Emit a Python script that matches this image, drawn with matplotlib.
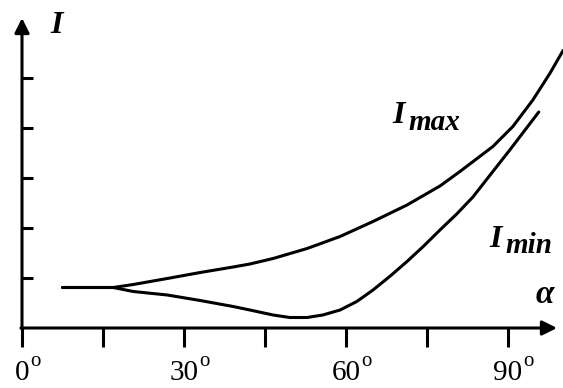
import numpy as np
import matplotlib.pyplot as plt

# angle (degrees) and intensity (arbitrary units)
alpha_max = [7.5, 16.9, 20.6, 26.9, 33.0, 39.1, 42.2, 46.5, 52.8, 58.9,
             65.0, 71.3, 77.4, 81.1, 87.2, 90.9, 94.6, 97.8, 100.2]
i_max = [0.81, 0.81, 0.87, 0.99, 1.11, 1.22, 1.28, 1.39, 1.59, 1.83,
         2.13, 2.46, 2.84, 3.13, 3.63, 4.03, 4.56, 5.10, 5.55]

alpha_min = [7.5, 16.9, 20.6, 26.9, 33.0, 39.1, 42.2, 46.5, 49.6, 52.8,
             55.7, 58.9, 62.0, 65.0, 68.2, 71.3, 74.3, 77.4, 80.5, 83.5,
             87.2, 90.4, 95.7]
i_min = [0.81, 0.81, 0.73, 0.66, 0.55, 0.43, 0.36, 0.26, 0.21, 0.21,
         0.26, 0.36, 0.53, 0.76, 1.04, 1.33, 1.63, 1.96, 2.28, 2.62,
         3.13, 3.57, 4.32]

x_ticks = [0, 15, 30, 45, 60, 75, 90]
x_labels = ["0", "30", "60", "90"]
x_label_pos = [0, 30, 60, 90]
y_ticks = [1, 2, 3, 4, 5]

# picture is 563x388 px; 5.4 px per degree, 50 px per unit of I
px_x = 5.4
px_y = 50.0
x0, y0 = 22, 328

fig = plt.figure(figsize=(5.63, 3.88), dpi=100)
ax = fig.add_axes([0, 0, 1, 1])
ax.set_xlim(-x0 / px_x, (563 - x0) / px_x)
ax.set_ylim(-(388 - y0) / px_y, y0 / px_y)

lw = 2.2
ax.plot(alpha_max, i_max, color="black", lw=lw, solid_capstyle="round",
        solid_joinstyle="round")
ax.plot(alpha_min, i_min, color="black", lw=lw, solid_capstyle="round",
        solid_joinstyle="round")

# axes with arrows
arrow = dict(arrowstyle="-|>", lw=lw, color="black", mutation_scale=22,
             shrinkA=0, shrinkB=0)
ax.annotate("", xy=(0, (y0 - 18) / px_y), xytext=(0, -0.02), arrowprops=arrow)
ax.annotate("", xy=((557 - x0) / px_x, 0), xytext=(-0.2, 0), arrowprops=arrow)

for s in ax.spines.values():
    s.set_visible(False)
ax.spines["left"].set_position(("data", 0))
ax.spines["bottom"].set_position(("data", 0))
ax.set_xticks(x_ticks)
ax.set_yticks(y_ticks)
ax.set_xticklabels([])
ax.set_yticklabels([])
ax.tick_params(axis="x", direction="out", length=14, width=lw, color="black")
ax.tick_params(axis="y", direction="in", length=8, width=lw, color="black")

serif = "Liberation Serif"
for lab, a in zip(x_labels, x_label_pos):
    ax.text(a, -(380 - y0) / px_y, lab, family=serif, fontsize=21,
            ha="center", va="baseline")
    xo = a + (len(lab) * 7.0 + 1) / px_x
    ax.text(xo, -(366 - y0) / px_y, "o", family=serif, fontsize=15,
            ha="left", va="baseline")

bi = dict(family=serif, weight="bold", style="italic", color="black")
ax.text((50 - x0) / px_x, (y0 - 33) / px_y, "I", fontsize=23, va="baseline", **bi)
ax.text((392 - x0) / px_x, (y0 - 123) / px_y, "I", fontsize=23, va="baseline", **bi)
ax.text((408 - x0) / px_x, (y0 - 130) / px_y, "max", fontsize=21, va="baseline", **bi)
ax.text((489 - x0) / px_x, (y0 - 247) / px_y, "I", fontsize=23, va="baseline", **bi)
ax.text((505 - x0) / px_x, (y0 - 253) / px_y, "min", fontsize=21, va="baseline", **bi)
ax.text((536 - x0) / px_x, (y0 - 303) / px_y, "α", fontsize=24, va="baseline", **bi)

fig.savefig("out.png", dpi=100, facecolor="white")
